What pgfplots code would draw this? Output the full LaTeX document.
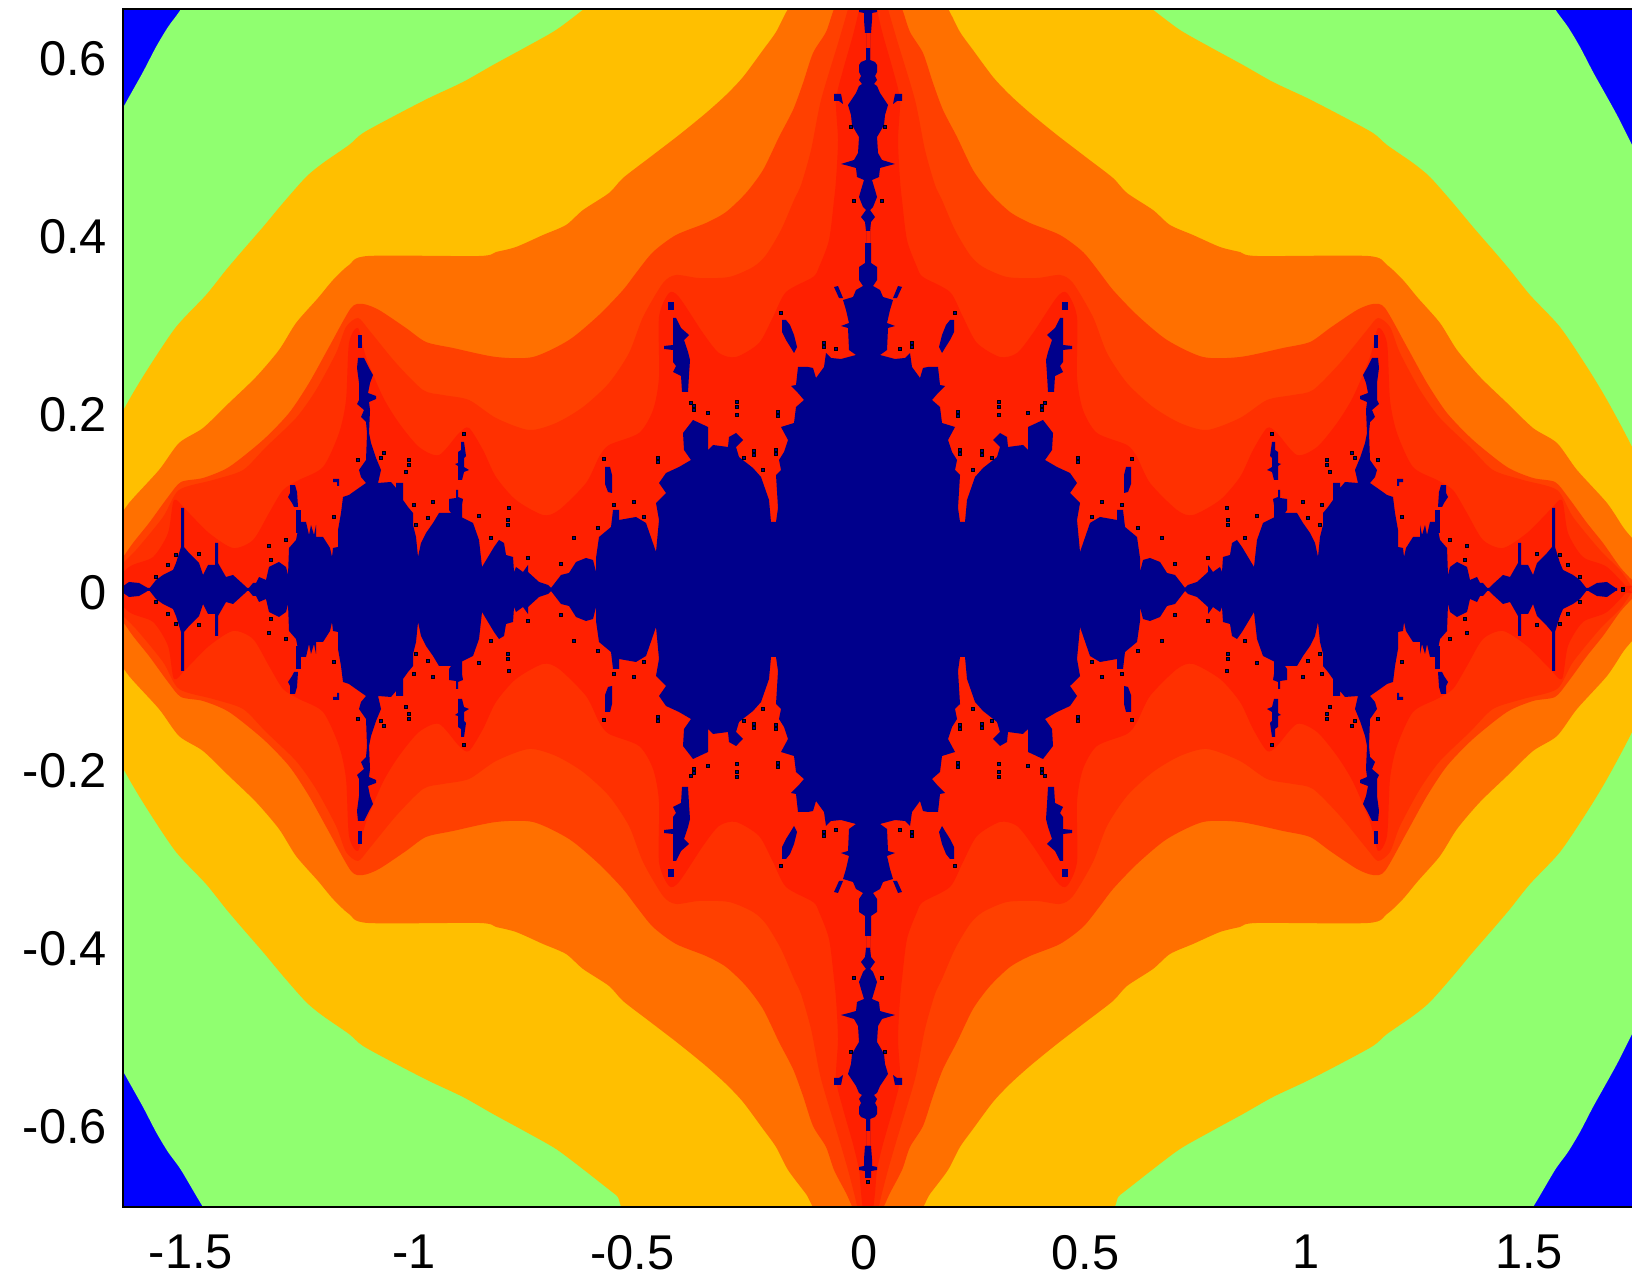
\documentclass[border=0pt]{standalone}
\usepackage{fontspec}
\setmainfont{Liberation Sans}
\usepackage{pgfplots}
\usepackage{pgfplotstable}
\pgfplotsset{compat=1.18}
\definecolor{cBlue}{RGB}{0,0,255}
\definecolor{cGreen}{RGB}{144,255,112}
\definecolor{cAmber}{RGB}{255,191,0}
\definecolor{cOrange}{RGB}{255,112,0}
\definecolor{cRa}{RGB}{255,64,0}
\definecolor{cRb}{RGB}{255,48,0}
\definecolor{cRc}{RGB}{255,32,0}
\definecolor{cNavy}{RGB}{0,0,140}
% Contours of the upper right quadrant (picture pixels);
% the figure is mirrored about its centre line in x and in y.
\pgfplotstableread{
X Y
866 591
866 -40
1522 -40
1533 -28
1555 9
1568 27
1580 47
1593 72
1607 97
1618 117
1632 145
1645 172
1680 250
1700 591
}\tGreen
\pgfplotstableread{
X Y
866 591
866 -36
1092 -36
1120 -16
1152 9
1180 30
1210 47
1243 65
1273 82
1307 98
1340 115
1373 133
1387 145
1413 163
1430 177
1453 203
1473 227
1493 250
1510 270
1530 295
1560 327
1587 367
1607 400
1632 447
1660 510
1680 591
}\tAmber
\pgfplotstableread{
X Y
866 591
866 -36
915 -36
930 -15
948 9
960 32
973 50
993 77
1010 95
1030 113
1057 135
1087 158
1113 178
1127 193
1153 210
1170 225
1193 235
1220 247
1240 252
1257 256
1368 256
1387 265
1403 280
1418 298
1440 323
1457 350
1480 377
1507 403
1533 428
1557 443
1577 470
1607 503
1623 527
1632 538
1660 570
1680 591
}\tOrange
\pgfplotstableread{
X Y
866 591
866 -36
879 -36
890 -14
902 9
910 32
923 53
933 83
943 110
957 137
973 170
990 193
1010 212
1030 223
1060 235
1083 252
1100 273
1113 290
1137 315
1167 340
1203 357
1240 357
1283 348
1310 342
1330 328
1357 310
1373 304
1385 308
1407 347
1427 383
1447 413
1473 440
1507 467
1533 478
1555 482
1568 497
1587 523
1603 543
1620 567
1632 580
1645 591
}\tRa
\pgfplotstableread{
X Y
866 591
866 -36
876 -36
882 -14
888 9
897 40
915 100
925 150
935 185
942 200
955 230
970 255
983 267
1007 277
1037 278
1060 275
1073 283
1093 317
1107 353
1127 383
1153 407
1180 423
1207 430
1240 418
1267 400
1293 395
1313 390
1340 363
1367 330
1378 318
1390 327
1400 353
1420 390
1440 418
1470 447
1493 470
1523 480
1557 490
1573 517
1600 550
1620 570
1632 587
1636 591
}\tRb
\pgfplotstableread{
X Y
866 591
866 -36
872 -36
875 -14
877 9
883 35
893 70
900 100
898 140
900 180
902 200
907 240
917 267
923 277
950 292
963 317
977 343
1000 357
1017 353
1033 333
1057 297
1067 293
1077 317
1077 377
1083 410
1097 433
1127 445
1137 457
1150 483
1177 510
1193 515
1220 500
1240 477
1253 450
1267 428
1277 433
1297 455
1317 447
1337 423
1353 397
1370 357
1378 328
1387 343
1390 400
1397 433
1413 467
1437 480
1453 490
1467 513
1483 540
1503 548
1527 533
1550 510
1562 500
1568 533
1583 557
1607 567
1632 593
}\tRc
\pgfplotstableread{
X Y
866 591
866 1
871 1
871 8
877 9
877 12
872 13
872 20
871 33
866 33
866 48
870 48
870 60
875 62
877 65
877 72
875 76
877 80
874 84
877 86
880 93
888 105
885 115
884 125
880 132
877 137
878 153
882 160
895 164
887 166
880 168
879 177
872 180
875 190
877 197
873 207
870 210
875 217
871 222
870 231
866 231
866 243
871 243
871 263
877 267
877 280
873 286
880 290
883 297
893 300
890 310
887 323
895 326
888 328
887 350
880 355
895 359
905 358
910 353
912 367
920 378
923 368
928 367
938 367
940 385
945 386
938 393
932 400
940 407
942 423
955 427
948 440
952 452
957 460
955 470
960 475
958 508
960 522
965 522
967 500
975 477
983 468
997 457
1000 447
993 440
1000 433
1007 437
1008 447
1023 445
1028 450
1028 427
1043 420
1053 433
1052 450
1045 460
1057 467
1070 473
1077 483
1070 493
1080 503
1077 520
1080 552
1090 523
1100 517
1117 520
1117 510
1123 510
1125 527
1137 537
1140 558
1140 572
1143 560
1150 558
1160 562
1167 573
1175 575
1185 588
1188 585
1197 582
1208 572
1208 565
1213 572
1220 567
1222 572
1223 557
1230 555
1232 543
1237 540
1242 547
1248 557
1254 567
1257 540
1263 523
1273 518
1283 513
1297 513
1303 523
1310 533
1315 543
1318 557
1320 537
1323 525
1323 513
1328 507
1333 500
1333 483
1340 483
1340 488
1345 482
1358 483
1355 470
1360 458
1365 443
1367 433
1366 410
1367 402
1360 399
1360 396
1368 393
1366 383
1363 375
1367 368
1372 358
1378 358
1379 368
1377 383
1377 400
1379 404
1372 410
1375 417
1370 422
1369 433
1370 460
1377 470
1375 477
1370 483
1380 490
1387 495
1393 497
1395 513
1398 530
1398 547
1403 548
1404 557
1406 548
1413 537
1420 537
1420 525
1422 535
1425 525
1427 535
1430 522
1437 522
1438 530
1440 540
1447 548
1448 575
1450 567
1457 562
1467 567
1470 580
1477 577
1480 583
1483 583
1488 589
1492 585
1503 575
1510 577
1518 563
1518 543
1521 543
1521 565
1528 565
1533 575
1537 563
1547 553
1552 547
1552 508
1555 508
1555 547
1560 563
1563 570
1573 575
1580 580
1587 589
1590 587
1597 583
1607 582
1617 589
1617 591
}\tNavy
\pgfplotstableread{
X Y
1060 318
1063 318
1063 345
1072 346
1072 349
1063 350
1063 362
1060 366
1063 372
1055 376
1054 392
1048 392
1047 375
1046 360
1048 352
1052 340
1047 335
1055 328
}\tIa
\pgfplotstableread{
X Y
950 320
954 320
954 332
950 340
945 348
942 353
939 347
942 335
946 325
}\tIb
\pgfplotstableread{
X Y
1126 467
1131 467
1131 484
1128 492
1124 493
1124 475
}\tIc
\pgfplotstableread{
X Y
895 94
902 94
902 101
897 101
893 104
}\tId
\pgfplotstableread{
X Y
898 286
902 287
897 298
893 298
}\tIe
\pgfplotstableread{
X Y
1272 442
1275 442
1275 450
1278 452
1278 463
1281 464
1278 466
1278 480
1274 480
1272 472
1267 470
1272 467
1272 458
1270 456
}\tIf
\pgfplotstableread{
X Y
1278 490
1280 490
1280 498
1287 499
1287 510
1285 513
1274 518
1274 505
1273 499
1278 497
}\tIg
\pgfplotstableread{
X Y
1441 485
1446 485
1446 493
1448 497
1444 503
1442 507
1438 507
1439 492
}\tIh
\pgfplotstableread{
X Y
1062 302
1068 302
1068 310
1062 310
}\tIi
\pgfplotstableread{
X Y
1374 335
1378 335
1378 348
1374 348
}\tIj
\pgfplotstableread{
X Y
1397 479
1403 479
1403 482
1399 482
1399 486
1397 486
}\tIk
\pgfplotstableread{
X Y
1435 510
1440 510
1440 533
1435 533
}\tIl
\pgfplotstableread{
X Y
900 349
912 343
912 347
955 313
960 450
960 454
982 451
982 455
992 458
973 470
958 412
958 416
999 402
999 407
999 415
1028 413
1042 406
1042 410
1045 403
1078 458
1078 462
1132 459
1102 502
1122 505
1092 517
1138 528
1162 538
1175 564
1227 508
1228 520
1228 525
1257 516
1245 538
1208 558
1303 502
1322 505
1308 518
1327 460
1327 465
1330 472
1352 453
1355 458
1378 460
1320 525
1402 517
1450 540
1467 546
1465 560
1560 555
1568 565
1580 577
1537 554
1272 434
1623 589
868 -3
882 201
885 127
}\tDots
\newcommand{\Mir}[5]{\addplot[fill=#1,draw=none,#5] table[x expr={#3*(\thisrow{X}-868)/446+0.01794}, y expr={#4*(589.5-\thisrow{Y})/890+0.00393}] {#2};}
\newcommand{\Q}[2]{\Mir{#1}{#2}{1}{1}{}\Mir{#1}{#2}{-1}{1}{}\Mir{#1}{#2}{1}{-1}{}\Mir{#1}{#2}{-1}{-1}{}}
\newcommand{\Qs}[2]{\Mir{#1}{#2}{1}{1}{smooth,tension=0.45}\Mir{#1}{#2}{-1}{1}{smooth,tension=0.45}\Mir{#1}{#2}{1}{-1}{smooth,tension=0.45}\Mir{#1}{#2}{-1}{-1}{smooth,tension=0.45}}
\newcommand{\MirD}[2]{\addplot[only marks,mark=square*,mark size=0.9pt,mark options={draw=none,fill=cNavy}] table[x expr={#1*(\thisrow{X}-868)/446+0.01794}, y expr={#2*(589.5-\thisrow{Y})/890+0.00393}] {\tDots};}
\begin{document}
\begin{tikzpicture}
\path[use as bounding box] (0,0) rectangle (816pt,638.5pt);
\begin{axis}[
  at={(61.5pt,35pt)}, anchor=south west,
  scale only axis, width=758.5pt, height=599pt,
  xmin=-1.6525, xmax=1.7489, ymin=-0.6899, ymax=0.6562,
  axis on top,
  axis background/.style={fill=cBlue},
  axis line style={black,line width=0.75pt},
  major tick length=0pt,
  xtick={-1.5,-1,-0.51,0.01,0.505,1,1.5},
  xticklabels={-1.5,-1,-0.5,0,0.5,1,1.5},
  ytick={-0.6,-0.4,-0.2,0,0.2,0.4,0.6},
  yticklabels={-0.6,-0.4,-0.2,0,0.2,0.4,0.6},
  ticklabel style={font=\fontsize{24.4}{28}\selectfont,text=black},
  xtick pos=bottom, ytick pos=left,
  x tick label style={yshift=-10.5pt},
  y tick label style={xshift=-4.5pt},
]
\Qs{cGreen}{\tGreen}
\Qs{cAmber}{\tAmber}
\Qs{cOrange}{\tOrange}
\Qs{cRa}{\tRa}
\Qs{cRb}{\tRb}
\Qs{cRc}{\tRc}
\Q{cNavy}{\tNavy}
\Q{cNavy}{\tIa}
\Q{cNavy}{\tIb}
\Q{cNavy}{\tIc}
\Q{cNavy}{\tId}
\Q{cNavy}{\tIe}
\Q{cNavy}{\tIf}
\Q{cNavy}{\tIg}
\Q{cNavy}{\tIh}
\Q{cNavy}{\tIi}
\Q{cNavy}{\tIj}
\Q{cNavy}{\tIk}
\Q{cNavy}{\tIl}
\MirD{1}{1}
\MirD{-1}{1}
\MirD{1}{-1}
\MirD{-1}{-1}
\end{axis}
\end{tikzpicture}
\end{document}
